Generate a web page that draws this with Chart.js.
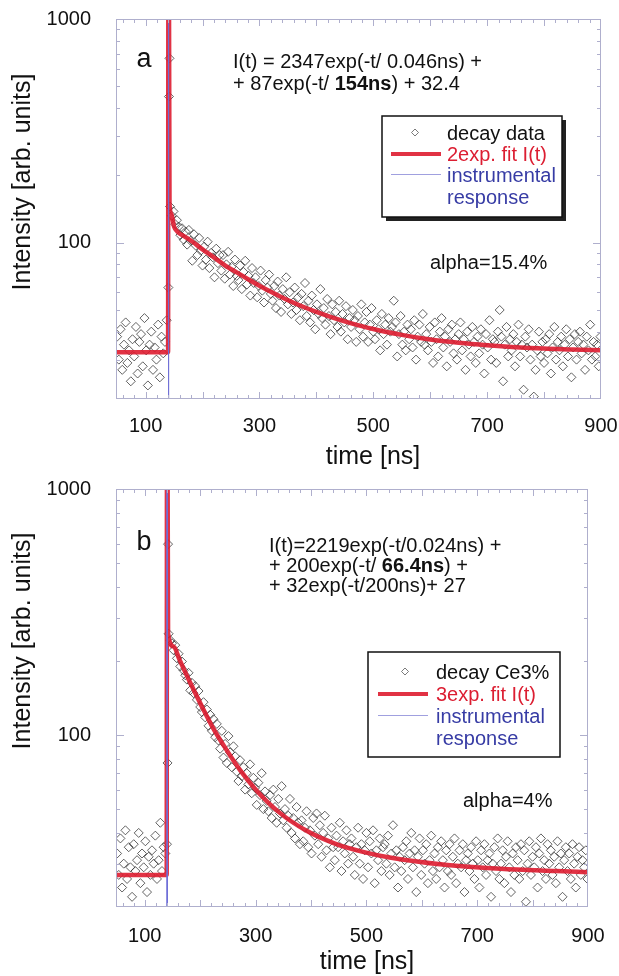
<!DOCTYPE html>
<html>
<head>
<meta charset="utf-8">
<script src="https://cdn.jsdelivr.net/npm/chart.js@4/dist/chart.umd.min.js"></script>
<style>
  html, body { margin: 0; padding: 0; background: #fff; }
  #wrap { position: relative; width: 619px; height: 976px; }
  canvas { position: absolute; left: 0; }
  #chartA { top: 0; }
  #chartB { top: 470px; }
</style>
</head>
<body>
<div id="wrap">
  <canvas id="chartA" width="619" height="480"></canvas>
  <canvas id="chartB" width="619" height="506"></canvas>
</div>
<script>
// time channels [ns], shared by both decays
const times = [
  50,53,56,59,62,65,68,71,74,77,
  80,83,86,89,92,95,98,101,104,107,
  110,113,116,119,122,125,128,131,134,137,
  140,141,142,
  143,146,149,152,155,158,161,164,167,170,
  173,176,179,182,185,188,191,194,197,200,
  203,206,209,212,215,218,221,224,227,230,
  233,236,239,242,245,248,251,254,257,260,
  263,266,269,272,275,278,281,284,287,290,
  293,296,299,302,305,308,311,314,317,320,
  323,326,329,332,335,338,341,344,347,350,
  353,356,359,362,365,368,371,374,377,380,
  383,386,389,392,395,398,401,404,407,410,
  413,416,419,422,425,428,431,434,437,440,
  443,446,449,452,455,458,461,464,467,470,
  473,476,479,482,485,488,491,494,497,500,
  503,506,509,512,515,518,521,524,527,530,
  533,536,539,542,545,548,551,554,557,560,
  563,566,569,572,575,578,581,584,587,590,
  593,596,599,602,605,608,611,614,617,620,
  623,626,629,632,635,638,641,644,647,650,
  653,656,659,662,665,668,671,674,677,680,
  683,686,689,692,695,698,701,704,707,710,
  713,716,719,722,725,728,731,734,737,740,
  743,746,749,752,755,758,761,764,767,770,
  773,776,779,782,785,788,791,794,797,800,
  803,806,809,812,815,818,821,824,827,830,
  833,836,839,842,845,848,851,854,857,860,
  863,866,869,872,875,878,881,884,887,890,
  893,896,899
];

// panel a: decay data
const decayA = [
  38,30,41,27,35,44,29,33,24,37,
  31,42,26,36,39,28,46,33,23,35,
  40,27,34,30,43,25,38,32,36,45,
  63,450,667,
  145,132,138,121,126,118,108,116,103,112,
  98,114,102,83,109,97,88,105,92,79,
  96,84,101,77,90,86,70,94,81,88,
  75,88,69,80,91,72,78,64,84,71,
  68,79,62,74,83,65,71,58,77,66,
  70,57,64,75,61,54,68,63,72,59,
  55,64,51,67,58,49,62,56,70,53,
  60,48,54,63,50,57,45,59,52,66,
  47,55,44,58,50,41,53,48,62,46,
  51,43,56,47,39,53,45,49,42,55,
  40,48,44,52,37,46,42,50,45,36,
  47,41,53,38,44,49,36,43,51,40,
  37,45,41,33,48,39,43,35,46,40,
  42,55,44,31,39,47,35,40,33,43,
  37,41,34,45,30,38,43,36,48,35,
  39,33,42,36,29,44,37,31,40,46,
  34,38,28,41,36,43,32,37,30,39,
  44,33,37,27,40,35,31,42,36,29,
  38,32,41,35,26,39,34,45,30,37,
  36,29,40,50,38,24,35,42,31,37,
  33,39,28,36,43,31,35,22,38,34,
  41,30,35,20.5,27,33,40,31,36,29,
  37,32,39,26,34,42,30,36,33,38,
  28,35,41,31,37,25,34,39,30,36,
  40,32,35,27,38,33,43,30,36,31,
  35,28,38
];

// panel b: decay data (Ce 3%)
const decayB = [
  33,27,38,24,30,41,26,35,29,22,
  36,28,31,40,25,33,29,37,23,32,
  27,34,30,39,26,31,44,28,35,33,
  36,77,597,
  258,243,236,221,232,205,214,190,199,183,
  175,168,179,152,163,148,158,139,151,130,
  124,136,118,127,109,121,104,116,98,111,
  95,88,104,81,92,77,99,85,74,90,
  82,71,65,79,68,74,60,70,63,76,
  58,67,61,52,64,57,70,50,59,54,
  49,57,46,60,51,44,55,48,62,45,
  50,42,47,55,40,46,38,51,44,36,
  45,37,42,49,35,41,33,46,39,48,
  36,43,32,40,47,34,38,29,42,35,
  31,39,35,44,28,37,33,41,30,36,
  38,32,27,35,42,30,36,26,34,40,
  29,37,33,41,25,34,31,38,28,35,
  36,30,39,27,33,43,29,34,24,32,
  28,35,31,37,26,33,40,29,34,23,
  32,38,27,34,30,36,25,31,39,28,
  33,26,35,29,37,31,24,34,28,36,
  27,32,38,25,30,34,29,36,23,31,
  33,28,35,30,26,37,31,24,34,29,
  36,27,31,33,22,30,35,28,38,26,
  30,34,25,32,37,29,23,33,27,35,
  31,26,36,28,34,21,30,37,27,32,
  29,35,24,33,38,28,31,26,36,30,
  34,27,32,25,37,29,33,22,31,35,
  28,33,26,36,30,24,32,35,27,31,
  29,34,26
];

// fitted curves
const fitTimesA = [48,139.5,140,141,142,145,150,156,170,180,200,220,240,260,280,300,320,340,360,380,400,430,460,500,550,600,650,700,750,800,850,900];
const fitA = [32.4,32.4,1500,1500,150,135,118,112,106,102,93.3,86,79,73.6,68.6,64.2,60.3,56.9,53.9,51.3,49,46.1,43.7,41.1,38.7,36.9,35.7,34.8,34.1,33.6,33.3,33];
const fitTimesB = [48,139.5,140,141,142,152,162,182,202,222,242,272,302,342,392,442,492,542,642,742,842,900];
const fitB = [27,27,1500,1500,259,229,204,163,132,108,91,72,59.4,48.6,40.8,36.3,33.6,31.8,29.7,28.6,28,27.7];

// instrumental response (thin spike)
const irfTimes = [48,139.8,140.2,140.6,900];
const irfA = [1,1,5000,1,1];
const irfB = [1,1,5000,1,1];

const xTicks = [100,300,500,700,900];
const yTicks = [100,1000];

const FONT = '"Liberation Sans", Arial, Helvetica, sans-serif';
const RED = 'rgba(222,28,48,0.9)';
const FRAME = 'rgb(175,175,205)';

function pts(xs, ys) { return xs.map((x, i) => ({ x: x, y: ys[i] })); }

function drawRich(ctx, x, y, parts, size) {
  parts.forEach(p => {
    ctx.font = (p[1] ? 'bold ' : '') + size + 'px ' + FONT;
    ctx.fillText(p[0], x, y);
    x += ctx.measureText(p[0]).width;
  });
}

function decor(o) {
  return {
    id: 'decor',
    afterDraw(chart) {
      const ctx = chart.ctx, a = chart.chartArea;
      const xs = chart.scales.x, ys = chart.scales.y;
      ctx.save();
      // frame + inward ticks
      ctx.strokeStyle = FRAME;
      ctx.lineWidth = 1;
      ctx.strokeRect(a.left + 0.5, a.top + 0.5, a.right - a.left - 1, a.bottom - a.top - 1);
      ctx.beginPath();
      for (let t = 60; t < 900; t += 20) {
        const px = Math.round(xs.getPixelForValue(t)) + 0.5;
        const len = t % 100 === 0 ? 7 : 4;
        ctx.moveTo(px, a.bottom); ctx.lineTo(px, a.bottom - len);
        ctx.moveTo(px, a.top); ctx.lineTo(px, a.top + len);
      }
      [30,40,50,60,70,80,90,100,200,300,400,500,600,700,800,900].forEach(v => {
        const py = Math.round(ys.getPixelForValue(v)) + 0.5;
        const len = v === 100 ? 8 : 4;
        ctx.moveTo(a.left, py); ctx.lineTo(a.left + len, py);
        ctx.moveTo(a.right, py); ctx.lineTo(a.right - len, py);
      });
      ctx.stroke();

      // axis titles
      ctx.fillStyle = '#111';
      ctx.textAlign = 'center';
      ctx.textBaseline = 'middle';
      ctx.font = '25px ' + FONT;
      ctx.fillText('time [ns]', o.xTitle[0], o.xTitle[1]);
      ctx.save();
      ctx.translate(o.yTitle[0], o.yTitle[1]);
      ctx.rotate(-Math.PI / 2);
      ctx.fillText('Intensity [arb. units]', 0, 0);
      ctx.restore();

      // panel letter
      ctx.textBaseline = 'alphabetic';
      ctx.font = '27px ' + FONT;
      ctx.fillText(o.letter, o.letterPos[0], o.letterPos[1]);

      // formula
      ctx.textAlign = 'left';
      o.formula.forEach((line, i) => drawRich(ctx, o.formulaPos[0], o.formulaPos[1] + i * o.formulaStep, line, 20));

      // alpha
      ctx.font = '20px ' + FONT;
      ctx.fillText(o.alpha, o.alphaPos[0], o.alphaPos[1]);

      // legend box
      const L = o.legend;
      if (L.shadow) {
        ctx.fillStyle = '#222';
        ctx.fillRect(L.x + 4, L.y + 4, L.w, L.h);
      }
      ctx.fillStyle = '#fff';
      ctx.fillRect(L.x, L.y, L.w, L.h);
      ctx.strokeStyle = '#111';
      ctx.lineWidth = 1.5;
      ctx.strokeRect(L.x, L.y, L.w, L.h);
      // diamond
      ctx.strokeStyle = 'rgba(90,90,90,0.8)';
      ctx.lineWidth = 1;
      ctx.beginPath();
      ctx.moveTo(L.sym, L.base[0] - 11); ctx.lineTo(L.sym + 3.5, L.base[0] - 7.5);
      ctx.lineTo(L.sym, L.base[0] - 4); ctx.lineTo(L.sym - 3.5, L.base[0] - 7.5);
      ctx.closePath(); ctx.stroke();
      // red line
      ctx.strokeStyle = RED; ctx.lineWidth = 4;
      ctx.beginPath(); ctx.moveTo(L.l0, L.base[1] - 7); ctx.lineTo(L.l1, L.base[1] - 7); ctx.stroke();
      // blue line
      ctx.strokeStyle = 'rgba(120,120,210,0.7)'; ctx.lineWidth = 1;
      ctx.beginPath(); ctx.moveTo(L.l0, L.base[2] - 7.5); ctx.lineTo(L.l1, L.base[2] - 7.5); ctx.stroke();
      ctx.font = '20px ' + FONT;
      ctx.fillStyle = '#111'; ctx.fillText(L.labels[0], L.tx, L.base[0]);
      ctx.fillStyle = 'rgb(220,30,50)'; ctx.fillText(L.labels[1], L.tx, L.base[1]);
      ctx.fillStyle = 'rgb(55,60,165)';
      ctx.fillText('instrumental', L.tx, L.base[2]);
      ctx.fillText('response', L.tx, L.base[3]);
      ctx.restore();
    }
  };
}

function panel(id, o) {
  return new Chart(document.getElementById(id), {
    type: 'scatter',
    data: {
      datasets: [
        { label: 'instrumental response', type: 'line', data: pts(irfTimes, o.irf),
          borderColor: 'rgba(110,110,215,0.9)', borderWidth: 1, pointRadius: 0, order: 0 },
        { label: o.fitLabel, type: 'line', data: pts(o.fitT, o.fit),
          borderColor: RED, borderWidth: 4.5, pointRadius: 0, cubicInterpolationMode: 'monotone', order: 1 },
        { label: o.dataLabel, data: pts(times, o.decay), pointStyle: 'rectRot', pointRadius: 4.5,
          borderColor: 'rgba(45,45,45,0.75)', borderWidth: 1, backgroundColor: 'rgba(0,0,0,0)', order: 2 }
      ]
    },
    options: {
      responsive: false,
      animation: false,
      events: [],
      layout: { padding: { top: 19, right: o.padRight, left: 0, bottom: 0 } },
      plugins: { legend: { display: false }, tooltip: { enabled: false } },
      scales: {
        x: {
          type: 'linear', min: 48, max: 900,
          grid: { display: false }, border: { display: false },
          afterBuildTicks: s => { s.ticks = xTicks.map(v => ({ value: v })); },
          afterFit: s => { s.height = o.xAxisH; s.paddingLeft = 0; s.paddingRight = 0; },
          ticks: { color: '#111', font: { family: FONT, size: 20 }, padding: o.xPad, maxRotation: 0, autoSkip: false }
        },
        y: {
          type: 'logarithmic', min: 20, max: 1000,
          grid: { display: false }, border: { display: false },
          afterBuildTicks: s => { s.ticks = yTicks.map(v => ({ value: v })); },
          afterFit: s => { s.width = 116; s.paddingTop = 0; s.paddingBottom = 0; },
          ticks: { color: '#111', font: { family: FONT, size: 20 }, padding: 17, autoSkip: false, callback: v => String(v) }
        }
      }
    },
    plugins: [decor(o)]
  });
}

panel('chartA', {
  decay: decayA, fitT: fitTimesA, fit: fitA, irf: irfA,
  dataLabel: 'decay data', fitLabel: '2exp. fit I(t)',
  padRight: 18, xAxisH: 81, xPad: 7,
  xTitle: [373, 457], yTitle: [23, 182],
  letter: 'a', letterPos: [144, 67],
  formula: [
    [['I(t) = 2347exp(-t/ 0.046ns) +', false]],
    [['+ 87exp(-t/ ', false], ['154ns', true], [') + 32.4', false]]
  ],
  formulaPos: [233, 68], formulaStep: 22,
  alpha: 'alpha=15.4%', alphaPos: [430, 269],
  legend: { x: 382, y: 116, w: 180, h: 101, shadow: true, sym: 415, l0: 391, l1: 441, tx: 447,
            base: [140, 161, 182, 204], labels: ['decay data', '2exp. fit I(t)'] }
});

panel('chartB', {
  decay: decayB, fitT: fitTimesB, fit: fitB, irf: irfB,
  dataLabel: 'decay Ce3%', fitLabel: '3exp. fit I(t)',
  padRight: 31, xAxisH: 69, xPad: 9,
  xTitle: [367, 492], yTitle: [23, 171],
  letter: 'b', letterPos: [144, 80],
  formula: [
    [['I(t)=2219exp(-t/0.024ns) +', false]],
    [['+ 200exp(-t/ ', false], ['66.4ns', true], [') +', false]],
    [['+ 32exp(-t/200ns)+ 27', false]]
  ],
  formulaPos: [269, 82], formulaStep: 20,
  alpha: 'alpha=4%', alphaPos: [463, 337],
  legend: { x: 368, y: 182, w: 192, h: 105, shadow: false, sym: 405, l0: 378, l1: 428, tx: 436,
            base: [209, 231, 253, 275], labels: ['decay Ce3%', '3exp. fit I(t)'] }
});
</script>
</body>
</html>
